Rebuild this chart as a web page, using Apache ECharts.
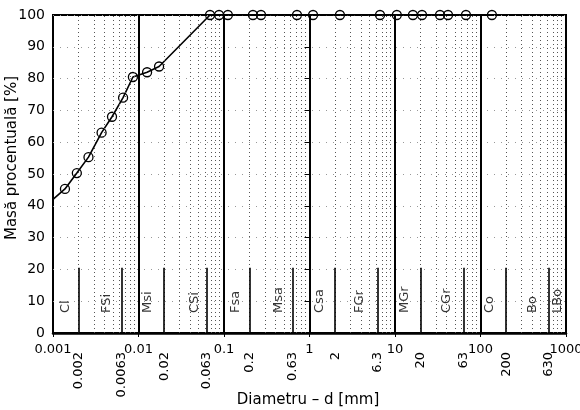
<!DOCTYPE html>
<html><head><meta charset="utf-8">
<script src="https://cdn.jsdelivr.net/npm/echarts@6/dist/echarts.min.js"></script>
<style>html,body{margin:0;padding:0;background:#fff}#c{width:580px;height:410px}</style>
</head><body><div id="c"></div>
<script>
// ---- data (diameters in mm) ----
const diameters = [0.001, 0.00138, 0.0019, 0.0026, 0.0037, 0.0049, 0.0066, 0.0086, 0.0126, 0.0174,
  0.0686, 0.0875, 0.111, 0.218, 0.271, 0.714, 1.1, 2.27, 6.68, 10.5, 16.2, 20.7, 33.6, 41.7, 67.6, 136];
const massPercent = [42, 45.3, 50.3, 55.3, 63, 68, 74, 80.5, 82, 83.8,
  100, 100, 100, 100, 100, 100, 100, 100, 100, 100, 100, 100, 100, 100, 100, 100];
const majorTicks = [0.001, 0.01, 0.1, 1, 10, 100, 1000];
const majorLabels = ['0.001', '0.01', '0.1', '1', '10', '100', '1000'];
const boundaryTicks = [0.002, 0.0063, 0.02, 0.063, 0.2, 0.63, 2, 6.3, 20, 63, 200, 630];
const boundaryLabels = ['0.002', '0.0063', '0.02', '0.063', '0.2', '0.63', '2', '6.3', '20', '63', '200', '630'];
const fractionNames = ['Cl', 'FSi', 'Msi', 'CSi', 'Fsa', 'Msa', 'Csa', 'FGr', 'MGr', 'CGr', 'Co', 'Bo', 'LBo'];
const fractionLabelDiam = [0.00142, 0.00428, 0.0129, 0.0458, 0.135, 0.43, 1.33, 3.9, 13.1, 40.6, 129, 411, 805];
const yTicks = [0, 10, 20, 30, 40, 50, 60, 70, 80, 90, 100];

const L = v => Math.log10(v);
const majorLog = majorTicks.map(L);
const boundLog = boundaryTicks.map(L);
const findLabel = (v, arr, labels) => {
  for (let i = 0; i < arr.length; i++) if (Math.abs(arr[i] - v) < 1e-6) return labels[i];
  return '';
};
// minor log grid lines 2..9 x 10^n
const minorLog = [];
for (let n = -3; n < 3; n++) for (let k = 2; k <= 9; k++) minorLog.push(L(k * Math.pow(10, n)));

const FONT = 'DejaVu Sans';
const chart = echarts.init(document.getElementById('c'), null, {renderer: 'canvas'});
chart.setOption({
  animation: false,
  backgroundColor: '#fff',
  grid: {left: 53, right: 14, top: 15, bottom: 77, outerBoundsMode: 'none', containLabel: false,
    show: true, borderColor: '#000', borderWidth: 2, backgroundColor: 'transparent'},
  xAxis: [{
    type: 'value', min: -3, max: 3, interval: 1,
    axisLine: {show: true, onZero: false, lineStyle: {color: '#000', width: 2.5}},
    axisTick: {show: true, length: 4, lineStyle: {color: '#000'}},
    splitLine: {show: false},
    axisLabel: {color: '#000', fontFamily: FONT, fontSize: 13, margin: 10, hideOverlap: false,
      formatter: v => findLabel(v, majorLog, majorLabels)}
  }, {
    type: 'value', min: -3, max: 3, position: 'bottom',
    axisLine: {show: false}, axisTick: {show: false}, splitLine: {show: false},
    axisLabel: {color: '#000', fontFamily: FONT, fontSize: 13, margin: 19, rotate: 90, hideOverlap: false,
      customValues: boundLog,
      formatter: v => findLabel(v, boundLog, boundaryLabels)}
  }],
  yAxis: {
    type: 'value', min: 0, max: 100, interval: 10,
    axisLine: {show: true, lineStyle: {color: '#000', width: 2}},
    axisTick: {show: true, length: 5, lineStyle: {color: '#000'}},
    splitLine: {show: true, lineStyle: {color: '#999', width: 1, type: [1, 6]}},
    axisLabel: {color: '#000', fontFamily: FONT, fontSize: 14, margin: 8}
  },
  graphic: [
    {type: 'text', x: 12, y: 158, rotation: Math.PI / 2,
      style: {text: 'Masă procentuală [%]', font: '15px "DejaVu Sans"', fill: '#000', align: 'center', verticalAlign: 'middle'}},
    {type: 'text', x: 308, y: 400,
      style: {text: 'Diametru – d [mm]', font: '15px "DejaVu Sans"', fill: '#000', align: 'center', verticalAlign: 'middle'}}
  ],
  series: [{
    type: 'line', data: [], silent: true,
    markLine: {
      silent: true, symbol: ['none', 'none'], animation: false, label: {show: false},
      data: [
        ...minorLog.map(v => ({xAxis: v, lineStyle: {color: '#555', width: 1, type: [1, 3]}})),
        ...majorLog.slice(1, 6).map(v => ({xAxis: v, lineStyle: {color: '#000', width: 2, type: 'solid'}})),
        ...boundLog.map(v => [{coord: [v, 0], lineStyle: {color: '#000', width: 1.6, type: 'solid'}}, {coord: [v, 20.5]}])
      ]
    }
  }, {
    type: 'scatter', silent: true, symbolSize: 0,
    data: fractionNames.map((n, i) => ({value: [L(fractionLabelDiam[i]), 6.3], name: n})),
    label: {show: true, formatter: p => p.name, position: [0, 0], rotate: 90, align: 'left', verticalAlign: 'middle',
      color: '#000', fontFamily: FONT, fontSize: 13}
  }, {
    type: 'line', clip: false, silent: true,
    data: diameters.map((d, i) => ({value: [L(d), massPercent[i]], symbol: i === 0 ? 'none' : 'circle'})),
    symbolSize: 9,
    lineStyle: {color: '#000', width: 1.6},
    itemStyle: {color: 'rgba(0,0,0,0)', borderColor: '#000', borderWidth: 1.3}
  }]
});
</script></body></html>
